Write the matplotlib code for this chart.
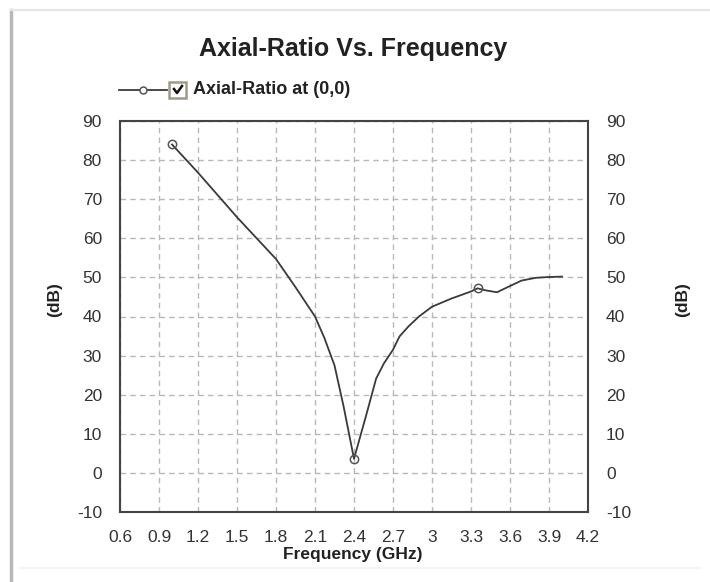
import matplotlib
matplotlib.use("Agg")
import matplotlib.pyplot as plt
from matplotlib.lines import Line2D
from matplotlib.patches import Rectangle

plt.rcParams["font.family"] = ["Liberation Sans", "DejaVu Sans"]
plt.rcParams["axes.unicode_minus"] = False

# values
freq_ghz = [1.0, 1.2, 1.5, 1.8, 1.95, 2.1, 2.17, 2.25, 2.32, 2.4, 2.5, 2.57,
            2.63, 2.7, 2.75, 2.82, 2.9, 3.0, 3.15, 3.3, 3.35, 3.41, 3.5,
            3.6, 3.69, 3.8, 3.9, 4.0]
axial_ratio_db = [84.0, 76.8, 65.4, 54.7, 47.5, 40.0, 34.7, 27.5, 17.0, 3.6,
                  15.5, 24.1, 28.0, 31.5, 34.9, 37.5, 40.0, 42.5, 44.6, 46.4,
                  47.2, 46.7, 46.2, 47.8, 49.2, 49.9, 50.1, 50.2]
marker_freqs = [1.0, 2.4, 3.35]

x_ticks = [0.6, 0.9, 1.2, 1.5, 1.8, 2.1, 2.4, 2.7, 3.0, 3.3, 3.6, 3.9, 4.2]
x_tick_labels = ["0.6", "0.9", "1.2", "1.5", "1.8", "2.1", "2.4", "2.7", "3",
                 "3.3", "3.6", "3.9", "4.2"]
y_ticks = list(range(-10, 91, 10))

W, H = 710, 582
fig = plt.figure(figsize=(W / 100, H / 100), dpi=100)

# outer frame of the screenshot
fig.add_artist(Line2D([11 / W, 11 / W], [0, 1 - 10 / H], transform=fig.transFigure,
                      color="#b8b8b8", lw=2.5))
fig.add_artist(Line2D([11 / W, 1], [1 - 10 / H, 1 - 10 / H], transform=fig.transFigure,
                      color="#e6e6e6", lw=1.5))
fig.add_artist(Line2D([20 / W, 700 / W], [1 - 568 / H, 1 - 568 / H], transform=fig.transFigure,
                      color="#f2f2f2", lw=1.2))

left, right, top, bottom = 120, 588, 121, 512
ax = fig.add_axes([left / W, 1 - bottom / H, (right - left) / W, (bottom - top) / H])

mark_idx = [freq_ghz.index(f) for f in marker_freqs]
ax.plot(freq_ghz, axial_ratio_db, color="#3a3a3a", lw=1.3, marker="o", markersize=6,
        markerfacecolor="none", markeredgecolor="#555555", markeredgewidth=1.1,
        markevery=mark_idx)

ax.set_xlim(0.6, 4.2)
ax.set_ylim(-10, 90)
ax.set_xticks(x_ticks)
ax.set_xticklabels(x_tick_labels)
ax.set_yticks(y_ticks)
ax.grid(True, color="#b8b8b8", ls=(0, (4, 3)), lw=1.0)
ax.tick_params(length=0, labelsize=12.5, colors="#333333")
ax.tick_params(axis="y", labelright=True, right=True, pad=13)
ax.tick_params(axis="x", pad=13)
for sp in ax.spines.values():
    sp.set_color("#444444")
    sp.set_linewidth(1.5)

fig.text(353 / W, 1 - 554 / H, "Frequency (GHz)", fontsize=12.5, fontweight="bold",
         color="#222222", ha="center", va="center")
for xpix in (55, 683):
    fig.text(xpix / W, 1 - 300 / H, "(dB)", rotation=90, fontsize=12.5, fontweight="bold",
             color="#222222", ha="center", va="center")

fig.text(353 / W, 1 - 49 / H, "Axial-Ratio Vs. Frequency", fontsize=18, fontweight="bold",
         color="#222222", ha="center", va="center")

# legend: line with marker, checkbox, label
ly = 1 - 90 / H
fig.add_artist(Line2D([119 / W, 167 / W], [ly, ly], transform=fig.transFigure,
                      color="#3a3a3a", lw=1.3))
fig.add_artist(Line2D([143 / W], [ly], transform=fig.transFigure, marker="o", markersize=5,
                      markerfacecolor="white", markeredgecolor="#555555", markeredgewidth=1.1))
fig.add_artist(Rectangle((169 / W, 1 - 98 / H), 17 / W, 16 / H, transform=fig.transFigure,
                         facecolor="white", edgecolor="#a09a88", lw=1.8))
fig.add_artist(Line2D([174 / W, 177 / W, 182 / W], [1 - 89 / H, 1 - 93 / H, 1 - 86 / H],
                      transform=fig.transFigure, color="#111111", lw=1.8))
fig.text(193 / W, ly, "Axial-Ratio at (0,0)", fontsize=13, fontweight="bold",
         color="#222222", ha="left", va="center")

fig.savefig("out.png", dpi=100)
